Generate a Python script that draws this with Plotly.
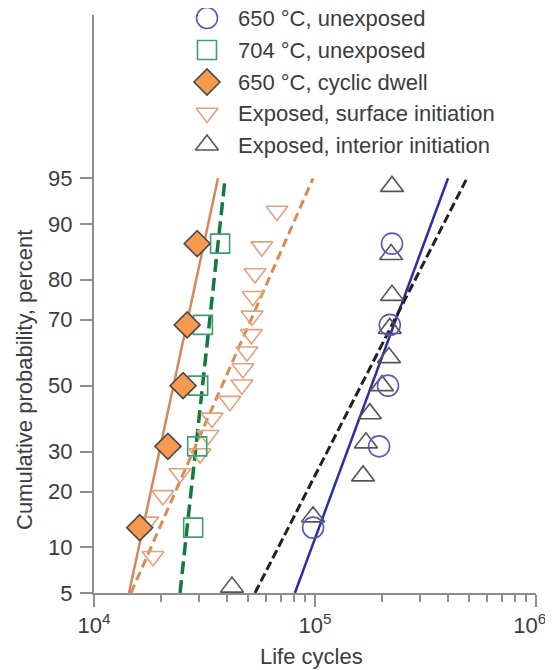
import plotly.graph_objects as go
from statistics import NormalDist

# ---------------- data ----------------
prob_ticks = [5, 10, 20, 30, 50, 70, 80, 90, 95]

unexp650_cycles = [98000, 195000, 214000, 218000, 223000]
unexp650_prob = [13.0, 31.5, 50.0, 68.5, 87.0]

unexp704_cycles = [28100, 29300, 29600, 31100, 37200]
unexp704_prob = [13.0, 31.5, 50.0, 68.5, 87.0]

dwell650_cycles = [16100, 21600, 25300, 26400, 29300]
dwell650_prob = [13.0, 31.5, 50.0, 68.5, 87.0]

surface_cycles = [18500, 17500, 20500, 24500, 30200, 32800, 34200, 41200, 46700,
                  47200, 49200, 51500, 51900, 52400, 53500, 57500, 67300]
surface_prob = [8.8, 14.0, 19.2, 24.3, 29.5, 34.7, 39.9, 45.1, 50.3,
                55.4, 60.6, 65.8, 71.0, 76.1, 81.3, 86.5, 91.7]

interior_cycles = [42100, 98000, 165000, 170000, 177000, 201000, 216000,
                   218000, 223000, 221000, 223000]
interior_prob = [5.5, 14.9, 23.7, 32.5, 41.2, 50.0, 58.8, 67.5, 76.3, 85.1, 94.3]

fit_prob = [5, 95]
fit650_cycles = [81100, 400000]
fit704_cycles = [24500, 39200]
fitdwell_cycles = [14400, 36400]
fitsurface_cycles = [14700, 98000]
fitinterior_cycles = [53500, 487000]

x_major = [1e4, 1e5, 1e6]
x_major_text = ["10<sup>4</sup>", "10<sup>5</sup>", "10<sup>6</sup>\u00a0\u00a0"]

legend_labels = ["650 °C, unexposed", "704 °C, unexposed", "650 °C, cyclic dwell",
                 "Exposed, surface initiation", "Exposed, interior initiation"]

# ---------------- helpers ----------------
nd = NormalDist()


def z(plist):
    return [nd.inv_cdf(p / 100.0) for p in plist]


W, H = 553, 670
# target plot rectangle in screenshot pixels
PX0, PX1, PY0, PY1 = 94, 536, 15, 593
# page offset (body margin) observed in the render
OFF = 8
ML = PX0 - OFF
MT = PY0 - OFF
MR = W - (PX1 - OFF)
MB = H - (PY1 - OFF)
PW, PH = PX1 - PX0, PY1 - PY0


def paper_x(px):
    return (px - PX0) / PW


def paper_y(py):
    return 1 - (py - PY0) / PH


FONT = "Liberation Sans, Arial, Helvetica, sans-serif"
TXT = "#3c3c3c"
AXC = "#8e8e8e"

blue_m, blue_l = "#5a5ab8", "#2c2ca8"
green_m, green_l = "#3d9e70", "#127a3c"
orange_fill, diamond_edge = "#f7994f", "#4a4a4a"
orange_l, orange_tri, orange_dash = "#d8875a", "#e2a27f", "#d98b56"
black_tri, black_dash = "#555555", "#222222"

fig = go.Figure()

# fitted lines
fig.add_trace(go.Scatter(x=fitdwell_cycles, y=z(fit_prob), mode="lines",
                         line=dict(color=orange_l, width=2.5), showlegend=False))
fig.add_trace(go.Scatter(x=fit704_cycles, y=z(fit_prob), mode="lines",
                         line=dict(color=green_l, width=3.5, dash="13px,6px"), showlegend=False))
fig.add_trace(go.Scatter(x=fitsurface_cycles, y=z(fit_prob), mode="lines",
                         line=dict(color=orange_dash, width=3, dash="9px,5px"), showlegend=False))
fig.add_trace(go.Scatter(x=fit650_cycles, y=z(fit_prob), mode="lines",
                         line=dict(color=blue_l, width=2.5), showlegend=False))
fig.add_trace(go.Scatter(x=fitinterior_cycles, y=z(fit_prob), mode="lines",
                         line=dict(color=black_dash, width=3, dash="9px,4px"), showlegend=False))

styles = [
    dict(symbol="circle-open", size=21, color=blue_m, line=dict(width=1.6, color=blue_m)),
    dict(symbol="square-open", size=19, color=green_m, line=dict(width=1.6, color=green_m)),
    dict(symbol="diamond", size=20, color=orange_fill, line=dict(width=1.6, color=diamond_edge)),
    dict(symbol="triangle-down-open", size=19, color=orange_tri, line=dict(width=1.6, color=orange_tri)),
    dict(symbol="triangle-up-open", size=20, color=black_tri, line=dict(width=1.6, color=black_tri)),
]

series = [
    (surface_cycles, surface_prob, 3),
    (interior_cycles, interior_prob, 4),
    (unexp704_cycles, unexp704_prob, 1),
    (unexp650_cycles, unexp650_prob, 0),
    (dwell650_cycles, dwell650_prob, 2),
]
for xs, ps, si in series:
    fig.add_trace(go.Scatter(x=xs, y=z(ps), mode="markers", marker=styles[si],
                             cliponaxis=False, showlegend=False, name=legend_labels[si]))

# manual legend on an overlay axis measured in screenshot pixels
leg_rows = [18, 50, 82, 113, 145]
leg_mx, leg_tx = 207, 236
for i, lab in enumerate(legend_labels):
    fig.add_trace(go.Scatter(x=[leg_mx], y=[leg_rows[i]], mode="markers", marker=styles[i],
                             xaxis="x2", yaxis="y2", cliponaxis=False, showlegend=False,
                             hoverinfo="skip"))
    fig.add_annotation(x=leg_tx, y=leg_rows[i], xref="x2", yref="y2", text=lab,
                       showarrow=False, xanchor="left", yanchor="middle",
                       font=dict(family=FONT, size=22, color=TXT))

minor_x = [m * 10 ** e for e in (4, 5) for m in range(2, 10)]

fig.update_layout(
    width=W, height=H,
    margin=dict(l=ML, r=MR, t=MT, b=MB, autoexpand=False),
    plot_bgcolor="white", paper_bgcolor="white",
    font=dict(family=FONT, size=22, color=TXT),
    xaxis=dict(type="log", range=[4, 6], tickmode="array", tickvals=x_major,
               ticktext=x_major_text,
               showline=True, linecolor=AXC, linewidth=2, ticks="outside",
               ticklen=12, tickwidth=2, tickcolor=AXC, showgrid=False, zeroline=False,
               automargin=False, tickfont=dict(size=22, color=TXT),
               minor=dict(tickmode="array", tickvals=minor_x, ticks="outside",
                          ticklen=7, tickwidth=2, tickcolor=AXC, showgrid=False)),
    yaxis=dict(range=[z([5])[0], 2.94], tickmode="array", tickvals=z(prob_ticks),
               ticktext=[str(p) for p in prob_ticks],
               showline=True, linecolor=AXC, linewidth=2, ticks="outside",
               ticklen=12, tickwidth=2, tickcolor=AXC, showgrid=False, zeroline=False,
               ticklabelstandoff=3,
               automargin=False, tickfont=dict(size=22, color=TXT)),
    xaxis2=dict(overlaying="x", range=[PX0, PX1], visible=False, fixedrange=True),
    yaxis2=dict(overlaying="y", range=[PY1, PY0], visible=False, fixedrange=True),
)

fig.add_annotation(x=paper_x(24), y=paper_y(380), xref="paper", yref="paper",
                   text="Cumulative probability, percent", textangle=-90, showarrow=False,
                   xanchor="center", yanchor="middle", font=dict(family=FONT, size=22, color=TXT))
fig.add_annotation(x=paper_x(311), y=paper_y(656), xref="paper", yref="paper",
                   text="Life cycles", showarrow=False, xanchor="center", yanchor="middle",
                   font=dict(family=FONT, size=22, color=TXT))

fig.write_html("out.html")
